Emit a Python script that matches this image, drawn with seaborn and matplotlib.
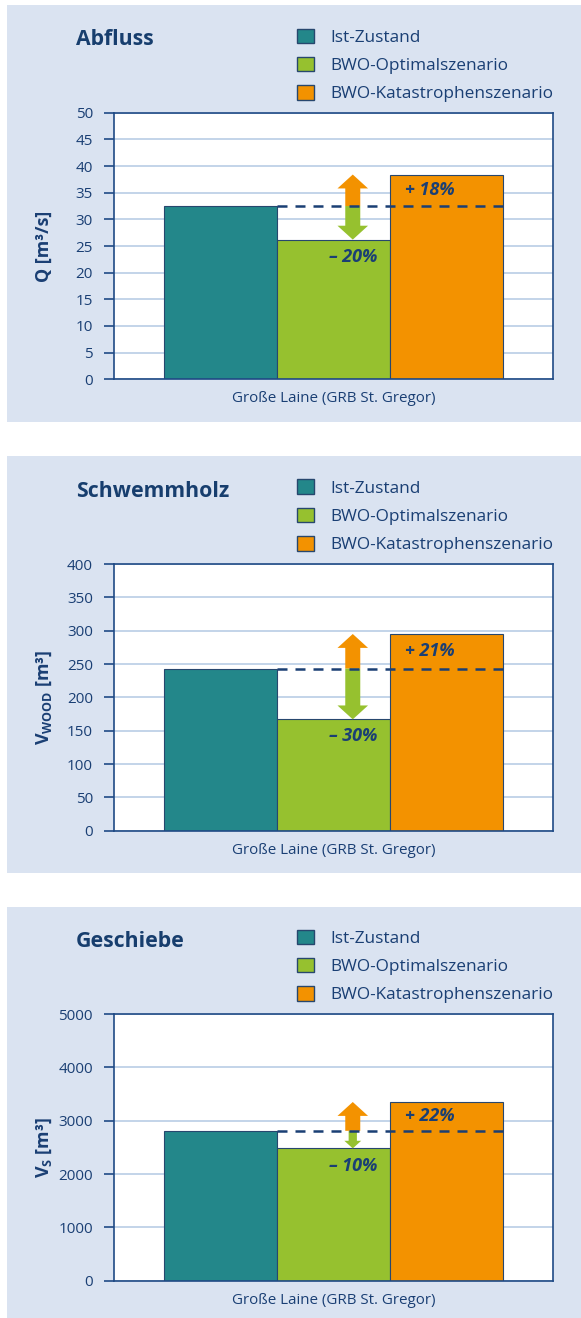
import numpy as np
import pandas as pd
import seaborn as sns
import matplotlib
matplotlib.use("Agg")
import matplotlib.pyplot as plt
from matplotlib.patches import Rectangle

# ---------------- data ----------------
site = "Große Laine (GRB St. Gregor)"
scenarios = ["Ist-Zustand", "BWO-Optimalszenario", "BWO-Katastrophenszenario"]
titles = ["Abfluss", "Schwemmholz", "Geschiebe"]
ylabels = ["Q [m³/s]", r"$\mathbf{V}_{\mathbf{WOOD}}$ [m³]", r"$\mathbf{V}_{\mathbf{S}}$ [m³]"]
abfluss = [32.5, 26.2, 38.4]
schwemmholz = [243, 167, 295]
geschiebe = [2810, 2480, 3350]
values_all = [abfluss, schwemmholz, geschiebe]
minus_labels = ["– 20%", "– 30%", "– 10%"]
plus_labels = ["+ 18%", "+ 21%", "+ 22%"]
yticks_all = [list(range(0, 51, 5)), list(range(0, 401, 50)), list(range(0, 5001, 1000))]

# ---------------- style ----------------
W, H = 581, 1318
BG = "#DAE3F1"
GRID = "#B9CDE5"
NAVY = "#1A3F74"
TITLE = "#173E6E"
FRAME = "#1F4A85"
EDGE = "#27476E"
colors = ["#23878A", "#96C12F", "#F39200"]

sns.set_theme(style="white")
plt.rcParams["font.family"] = ["Open Sans", "DejaVu Sans"]
plt.rcParams["mathtext.fontset"] = "custom"
plt.rcParams["mathtext.rm"] = "Open Sans"
plt.rcParams["mathtext.bf"] = "Open Sans:bold"
plt.rcParams["mathtext.it"] = "Open Sans:italic"

fig = plt.figure(figsize=(W / 100, H / 100), dpi=100, facecolor="white")


def fx(x):
    return x / W


def fy(y):
    return 1 - y / H


panels = [
    dict(bg=(5, 421.7), frame=(112.7, 379.3), title_base=45.0, leg_top=28.5),
    dict(bg=(455.7, 872.7), frame=(564.0, 830.7), title_base=497.3, leg_top=479.5),
    dict(bg=(906.7, 1318), frame=(1014.0, 1280.7), title_base=947.3, leg_top=929.5),
]
green_arrow_scale = [10, 10, 5.5]

for i, p in enumerate(panels):
    b0, b1 = p["bg"]
    fig.patches.append(Rectangle((fx(6.7), fy(b1)), 1 - fx(6.7), (b1 - b0) / H,
                                 transform=fig.transFigure, facecolor=BG,
                                 edgecolor="none", zorder=-10))
    t0, t1 = p["frame"]
    ax = fig.add_axes([fx(114), fy(t1), 439 / W, (t1 - t0) / H])
    ax.set_zorder(2)
    ax.set_facecolor("white")

    vals = values_all[i]
    df = pd.DataFrame({"site": [site] * 3, "scenario": scenarios, "value": vals})
    sns.barplot(data=df, x="site", y="value", hue="scenario", hue_order=scenarios,
                palette=colors, saturation=1, width=0.8, gap=0,
                edgecolor=EDGE, linewidth=0.8, ax=ax, zorder=2, legend=True)
    handles, labels = ax.get_legend_handles_labels()
    if ax.get_legend() is not None:
        ax.get_legend().remove()

    yt = yticks_all[i]
    ax.set_xlim(-0.5165, 0.5165)
    ax.set_ylim(yt[0], yt[-1])
    ax.set_yticks(yt)
    ax.yaxis.grid(True, color=GRID, lw=1.2)
    ax.xaxis.grid(False)
    ax.set_axisbelow(True)
    for s in ax.spines.values():
        s.set_color(FRAME)
        s.set_linewidth(1.2)
    ax.tick_params(axis="y", left=True, length=7.2, width=1.2, color=FRAME,
                   pad=8.0, labelsize=11, labelcolor=NAVY)
    ax.tick_params(axis="x", bottom=False, length=0, pad=8.5, labelsize=10.9, labelcolor=NAVY)
    ax.set_xlabel("")
    ax.set_ylabel(ylabels[i], fontsize=12.9, fontweight="bold", color=NAVY)
    ax.yaxis.set_label_coords((44 - 114) / 439, 0.5)
    ax.yaxis.label.set_va("center")
    ax.yaxis.label.set_ha("center")

    # bars from seaborn containers
    ist = ax.containers[0].patches[0]
    opt = ax.containers[1].patches[0]
    kat = ax.containers[2].patches[0]
    base = ist.get_height()

    # dashed reference line
    ax.hlines(base, ist.get_x() + ist.get_width(), kat.get_x() + kat.get_width(),
              colors=NAVY, lw=1.8, linestyles=(0, (4, 3.2)), zorder=5)

    # arrows
    xa = opt.get_x() + opt.get_width() * 0.67
    ax.annotate("", xy=(xa, kat.get_height()), xytext=(xa, base),
                arrowprops=dict(arrowstyle="simple,head_length=1.0,head_width=2.2,tail_width=1.08",
                                color=colors[2], shrinkA=0, shrinkB=0, mutation_scale=10,
                                lw=0), zorder=4)
    gs = green_arrow_scale[i]
    ax.annotate("", xy=(xa, opt.get_height()), xytext=(xa, base),
                arrowprops=dict(arrowstyle="simple,head_length=1.0,head_width=2.2,tail_width=1.08",
                                color=colors[1], shrinkA=0, shrinkB=0, mutation_scale=gs,
                                lw=0), zorder=4)

    # percentage labels
    ax.annotate(plus_labels[i],
                xy=(kat.get_x() + kat.get_width() * 0.35, (base + kat.get_height()) / 2),
                ha="center", va="center", fontsize=13, fontweight="bold",
                fontstyle="italic", color=NAVY, zorder=6)
    ax.annotate(minus_labels[i], xy=(xa, opt.get_height()), xytext=(0, -12.3),
                textcoords="offset points", ha="center", va="center", fontsize=13,
                fontweight="bold", fontstyle="italic", color=NAVY, zorder=6)

    # title
    fig.text(fx(76), fy(p["title_base"]), titles[i], ha="left", va="baseline",
             fontsize=15.3, fontweight="bold", color=TITLE)

    # legend
    fs = 12.4
    fs_px = fs * 100 / 72
    leg = fig.legend(handles, labels, loc="upper left",
                     bbox_to_anchor=(fx(297), fy(p["leg_top"])),
                     bbox_transform=fig.transFigure, frameon=False,
                     fontsize=fs, borderpad=0, borderaxespad=0,
                     handlelength=17 / fs_px, handleheight=16 / fs_px,
                     handletextpad=16 / fs_px, labelspacing=0.64)
    for t in leg.get_texts():
        t.set_color(NAVY)
    for h in leg.legend_handles:
        h.set_edgecolor(EDGE)
        h.set_linewidth(1.0)

fig.savefig("out.png", dpi=100, facecolor="white")
